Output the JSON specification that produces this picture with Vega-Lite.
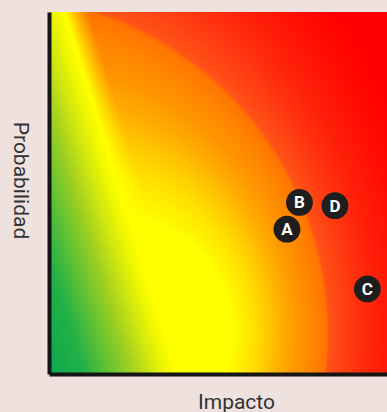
{
  "$schema": "https://vega.github.io/schema/vega-lite/v6.json",
  "width": 338,
  "height": 362,
  "autosize": {"type": "none"},
  "padding": {"left": 49, "top": 12, "right": 0, "bottom": 38},
  "background": "#efe1de",
  "config": {
    "view": {"stroke": null},
    "axis": {
      "domain": true,
      "domainColor": "#151515",
      "domainWidth": 4,
      "ticks": false,
      "labels": false,
      "grid": false,
      "zindex": 1,
      "titleFont": "Roboto",
      "titleFontSize": 21,
      "titleFontWeight": "normal",
      "titleColor": "#333333"
    }
  },
  "layer": [
    {
      "data": {"values": [{"x0": 0, "x1": 10, "y0": 0, "y1": 10}]},
      "mark": {
        "type": "rect",
        "fill": {
          "gradient": "radial",
          "x1": 0.3967, "y1": 0.8895, "r1": 0.00884,
          "x2": -0.6365, "y2": 0.8895, "r2": 1.8169,
          "stops": [
            {"offset": 0, "color": "#ffff00"},
            {"offset": 0.1711, "color": "#ffff00"},
            {"offset": 0.1979, "color": "#fff400"},
            {"offset": 0.2513, "color": "#ffe000"},
            {"offset": 0.3048, "color": "#ffc600"},
            {"offset": 0.3583, "color": "#ffaa00"},
            {"offset": 0.4118, "color": "#ff9400"},
            {"offset": 0.4652, "color": "#ff8400"},
            {"offset": 0.508, "color": "#ff7400"},
            {"offset": 0.5187, "color": "#ff5218"},
            {"offset": 0.5722, "color": "#ff4012"},
            {"offset": 0.6257, "color": "#ff300e"},
            {"offset": 0.6791, "color": "#ff220a"},
            {"offset": 0.7326, "color": "#ff1806"},
            {"offset": 0.786, "color": "#ff0e04"},
            {"offset": 0.8396, "color": "#ff0600"},
            {"offset": 0.893, "color": "#ff0000"},
            {"offset": 1, "color": "#ff0000"}
          ]
        }
      },
      "encoding": {
        "x": {"field": "x0", "type": "quantitative", "scale": {"domain": [0, 10], "nice": false, "zero": false}, "axis": {"title": "Impacto", "zindex": 1, "titleX": 187, "titleY": 34, "titleBaseline": "alphabetic", "titleAlign": "center"}},
        "x2": {"field": "x1"},
        "y": {"field": "y0", "type": "quantitative", "scale": {"domain": [0, 10], "nice": false, "zero": false}, "axis": {"title": "Probabilidad", "zindex": 1, "titleAngle": 90, "titleX": -36, "titleY": 168, "titleBaseline": "alphabetic", "titleAlign": "center"}},
        "y2": {"field": "y1"}
      }
    },
    {
      "data": {"values": [{"x0": 0, "x1": 10, "y0": 0, "y1": 10}]},
      "mark": {
        "type": "rect",
        "fill": {
          "gradient": "linear",
          "x1": 0, "y1": 1, "x2": 1.2, "y2": 0.6015,
          "stops": [
            {"offset": 0, "color": "#0aa84e"},
            {"offset": 0.079, "color": "#22b046"},
            {"offset": 0.13, "color": "#5cc036"},
            {"offset": 0.186, "color": "#a0d020"},
            {"offset": 0.228, "color": "#cfe610"},
            {"offset": 0.26, "color": "#eef600"},
            {"offset": 0.284, "color": "#ffff00"},
            {"offset": 0.307, "color": "rgba(255,255,0,0.5)"},
            {"offset": 0.335, "color": "rgba(255,255,0,0)"},
            {"offset": 1, "color": "rgba(255,255,0,0)"}
          ]
        }
      },
      "encoding": {
        "x": {"field": "x0", "type": "quantitative"},
        "x2": {"field": "x1"},
        "y": {"field": "y0", "type": "quantitative"},
        "y2": {"field": "y1"}
      }
    },
    {
      "data": {"values": [
        {"riesgo": "A", "impacto": 7.04, "probabilidad": 4.0},
        {"riesgo": "B", "impacto": 7.41, "probabilidad": 4.74},
        {"riesgo": "D", "impacto": 8.46, "probabilidad": 4.65},
        {"riesgo": "C", "impacto": 9.42, "probabilidad": 2.35}
      ]},
      "layer": [
        {
          "mark": {"type": "circle", "size": 720, "fill": "#1e1e1e", "opacity": 1},
          "encoding": {
            "x": {"field": "impacto", "type": "quantitative"},
            "y": {"field": "probabilidad", "type": "quantitative"}
          }
        },
        {
          "mark": {"type": "text", "color": "#ffffff", "font": "Roboto", "fontWeight": "bold", "fontSize": 17, "align": "center", "baseline": "middle", "dy": 1},
          "encoding": {
            "x": {"field": "impacto", "type": "quantitative"},
            "y": {"field": "probabilidad", "type": "quantitative"},
            "text": {"field": "riesgo"}
          }
        }
      ]
    }
  ]
}
